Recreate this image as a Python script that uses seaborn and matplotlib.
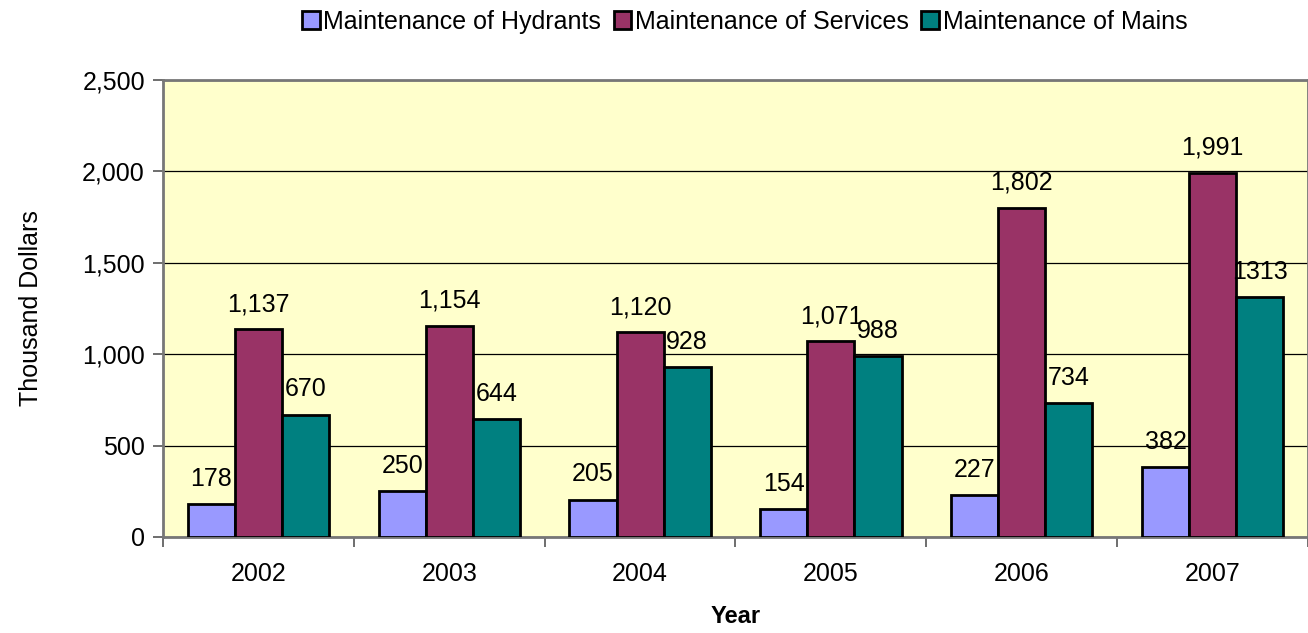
import numpy as np
import matplotlib
matplotlib.use("Agg")
import matplotlib.pyplot as plt
import pandas as pd
import seaborn as sns
from matplotlib.ticker import FuncFormatter, FixedLocator

years = ["2002", "2003", "2004", "2005", "2006", "2007"]
hydrants = [178, 250, 205, 154, 227, 382]
services = [1137, 1154, 1120, 1071, 1802, 1991]
mains = [670, 644, 928, 988, 734, 1313]

series_names = ["Maintenance of Hydrants", "Maintenance of Services", "Maintenance of Mains"]
colors = ["#9999FF", "#993366", "#008080"]
label_fmts = ["{:,}", "{:,}", "{}"]

df = pd.DataFrame({
    "Year": years * 3,
    "Series": np.repeat(series_names, len(years)),
    "Value": hydrants + services + mains,
})

sns.set_style("white")
plt.rcParams["font.family"] = ["Liberation Sans", "DejaVu Sans"]
plt.rcParams["text.color"] = "black"
plt.rcParams["axes.labelcolor"] = "black"
plt.rcParams["xtick.labelcolor"] = "black"
plt.rcParams["ytick.labelcolor"] = "black"

fs = 18

fig = plt.figure(figsize=(13.08, 6.33), dpi=100)
ax = fig.add_axes([0.1246, 0.1517, 0.8754, 0.7219])
ax.set_facecolor("#FFFFCC")

sns.barplot(data=df, x="Year", y="Value", hue="Series", palette=colors,
            width=0.74, edgecolor="black", linewidth=2, saturation=1,
            errorbar=None, ax=ax, zorder=3)

for cont, fmt in zip(ax.containers, label_fmts):
    for bar in cont:
        h = bar.get_height()
        ax.annotate(fmt.format(int(h)), (bar.get_x() + bar.get_width() / 2, h),
                    xytext=(0, 13), textcoords="offset points",
                    ha="center", va="baseline", fontsize=fs, zorder=4)

ax.set_ylim(0, 2500)
ax.set_xlim(-0.5, 5.5)
ax.set_yticks(range(0, 2501, 500))
ax.yaxis.set_major_formatter(FuncFormatter(lambda v, p: f"{int(v):,}"))
ax.grid(axis="y", color="black", linewidth=0.9, zorder=1)
ax.set_axisbelow(True)

ax.xaxis.set_minor_locator(FixedLocator(np.arange(-0.5, 6, 1)))
ax.tick_params(axis="x", which="major", length=0, pad=18, labelsize=fs)
ax.tick_params(axis="x", which="minor", length=7, width=1.2, color="#555555", direction="out", bottom=True)
ax.tick_params(axis="y", length=7, width=1.2, color="#555555", direction="out", left=True, labelsize=fs, pad=6)

for side in ["left", "bottom", "top", "right"]:
    ax.spines[side].set_color("#777777")
    ax.spines[side].set_linewidth(2)

ax.set_xlabel("Year", fontsize=17, fontweight="bold", labelpad=14)
ax.set_ylabel("Thousand Dollars", fontsize=fs, labelpad=28)

ax.legend(loc="center", bbox_to_anchor=(0.508, 1.127), ncol=3, frameon=False,
          fontsize=fs, handlelength=0.7, handleheight=0.7, handletextpad=0.15, columnspacing=0.5)

fig.savefig("out.png", dpi=100)
